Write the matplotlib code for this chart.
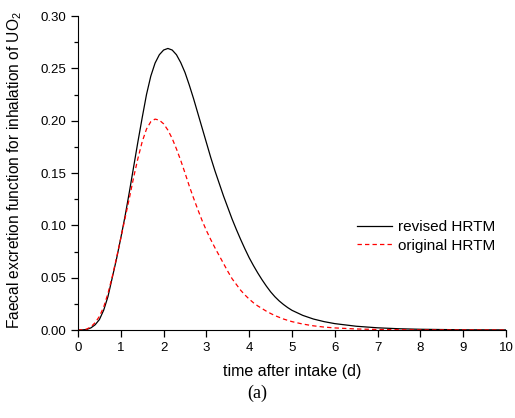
import numpy as np
import matplotlib.pyplot as plt
from matplotlib.ticker import MultipleLocator, FormatStrFormatter

plt.rcParams['font.family'] = ['Liberation Sans', 'DejaVu Sans']
plt.rcParams['mathtext.default'] = 'regular'

# time after intake (d) and faecal excretion values
t_rev = [0, 0.1, 0.2, 0.3, 0.4, 0.5, 0.6, 0.7, 0.8, 0.9, 1.0, 1.1, 1.2, 1.3, 1.4,
         1.5, 1.6, 1.7, 1.8, 1.9, 2.0, 2.1, 2.2, 2.3, 2.4, 2.5, 2.6, 2.7, 2.8, 2.9,
         3.0, 3.1, 3.2, 3.3, 3.4, 3.5, 3.6, 3.7, 3.8, 3.9, 4.0, 4.1, 4.2, 4.3, 4.4,
         4.5, 4.6, 4.7, 4.8, 4.9, 5.0, 5.25, 5.5, 5.75, 6.0, 6.5, 7.0, 7.5, 8.0,
         9.0, 10.0]
revised = [0, 0.0001, 0.0005, 0.002, 0.005, 0.010, 0.019, 0.032, 0.050, 0.068,
           0.088, 0.109, 0.132, 0.156, 0.180, 0.203, 0.225, 0.2425, 0.255, 0.263,
           0.2675, 0.269, 0.2675, 0.263, 0.2555, 0.246, 0.234, 0.221, 0.207, 0.193,
           0.179, 0.165, 0.152, 0.140, 0.128, 0.117, 0.106, 0.096, 0.0865, 0.0775,
           0.069, 0.0615, 0.0545, 0.048, 0.042, 0.0365, 0.0318, 0.0278, 0.0244,
           0.0214, 0.0188, 0.014, 0.0105, 0.008, 0.0061, 0.0036, 0.0021, 0.0012,
           0.0007, 0.0002, 0.0001]

t_orig = [0, 0.1, 0.2, 0.3, 0.4, 0.5, 0.6, 0.7, 0.8, 0.9, 1.0, 1.1, 1.2, 1.3, 1.4,
          1.5, 1.6, 1.7, 1.8, 1.9, 2.0, 2.1, 2.2, 2.3, 2.4, 2.5, 2.6, 2.7, 2.8, 2.9,
          3.0, 3.1, 3.2, 3.3, 3.4, 3.5, 3.6, 3.7, 3.8, 3.9, 4.0, 4.1, 4.2, 4.3, 4.4,
          4.5, 4.6, 4.8, 5.0, 5.25, 5.5, 5.75, 6.0, 6.5, 7.0, 8.0, 10.0]
original = [0, 0.0002, 0.0008, 0.003, 0.007, 0.013, 0.022, 0.035, 0.051, 0.069,
            0.088, 0.107, 0.126, 0.146, 0.164, 0.180, 0.192, 0.199, 0.2015, 0.2005,
            0.197, 0.191, 0.183, 0.173, 0.162, 0.150, 0.1375, 0.126, 0.115, 0.1045,
            0.095, 0.0865, 0.0785, 0.071, 0.0635, 0.056, 0.049, 0.0435, 0.038, 0.0335,
            0.0295, 0.026, 0.023, 0.0205, 0.018, 0.0158, 0.0138, 0.0105, 0.008,
            0.0057, 0.004, 0.0028, 0.002, 0.001, 0.0005, 0.0001, 0]

fig = plt.figure(figsize=(5.15, 4.18), dpi=100)
ax = fig.add_axes([0.1515, 0.2105, 0.831, 0.7512])

ax.plot(t_rev, revised, color='black', lw=0.9, label='revised HRTM')
ax.plot(t_orig, original, color='red', lw=0.9, dashes=(3.5, 2.5), label='original HRTM')

ax.set_xlim(0, 10)
ax.set_ylim(0, 0.30)
ax.xaxis.set_major_locator(MultipleLocator(1))
ax.yaxis.set_major_locator(MultipleLocator(0.05))
ax.yaxis.set_minor_locator(MultipleLocator(0.025))
ax.yaxis.set_major_formatter(FormatStrFormatter('%.2f'))
for s in ['top', 'right']:
    ax.spines[s].set_visible(False)
ax.tick_params(direction='out', length=5, width=0.9, labelsize=9.5, colors='black')
ax.tick_params(which='minor', direction='out', length=3, width=0.9)

ax.set_xlabel('time after intake (d)', fontsize=11.5)
ax.set_ylabel('Faecal excretion function for inhalation of UO$_2$', fontsize=11.2)
ax.xaxis.set_label_coords(0.5, -0.108)
ax.yaxis.set_label_coords(-0.126, 0.51)

ax.legend(loc='upper left', bbox_to_anchor=(0.652, 0.35), frameon=False, fontsize=11,
          handlelength=2.3, handletextpad=0.35, labelspacing=0.3, borderaxespad=0,
          borderpad=0)

fig.text(0.5, 0.06, '(a)', ha='center', va='center', fontsize=13,
         family=['Liberation Serif', 'DejaVu Serif'])

fig.savefig('out.png', dpi=100)
